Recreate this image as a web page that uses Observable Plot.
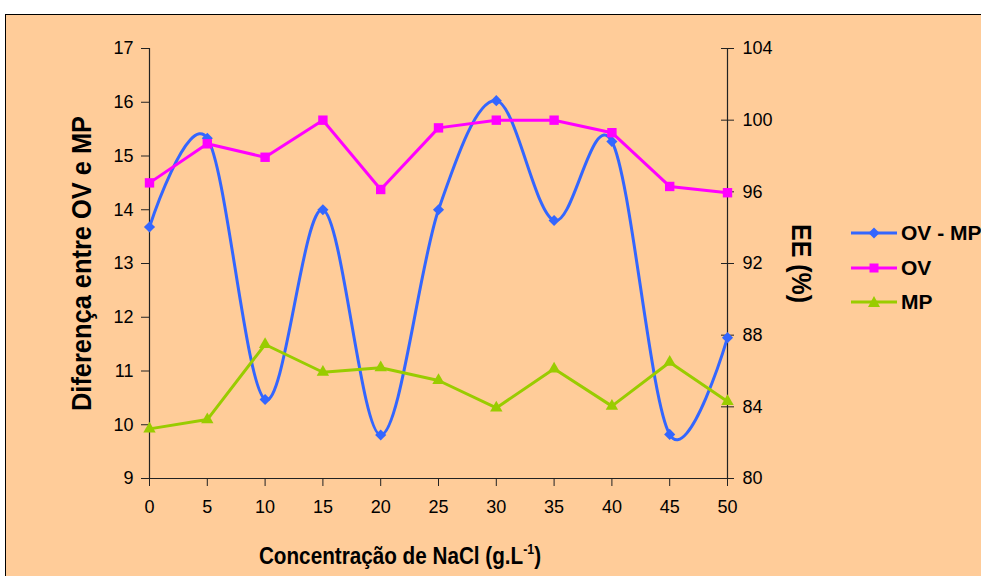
<!DOCTYPE html>
<html><head><meta charset="utf-8">
<script src="https://cdn.jsdelivr.net/npm/d3@7"></script>
<script src="https://cdn.jsdelivr.net/npm/@observablehq/plot@0.6"></script>
<style>
body{margin:0;background:#fff;width:981px;height:576px;overflow:hidden;position:relative;font-family:"Liberation Sans",Arial,sans-serif;}
#bg{position:absolute;left:5px;top:14px;width:990px;height:580px;background:#FFCC99;border:1px solid #000;}
#chart{position:absolute;left:0;top:0;}
#xtitle{position:absolute;left:200px;width:400px;top:543px;line-height:27px;text-align:center;font-weight:bold;font-size:23.5px;color:#000;transform:scaleX(0.88);transform-origin:50% 50%;white-space:nowrap;}
#xtitle sup{font-size:14px;vertical-align:0;position:relative;top:-10px;}
#legend{position:absolute;left:851px;top:216px;font-weight:bold;font-size:21px;color:#000;white-space:nowrap;}
.row{display:flex;align-items:center;height:34.5px;}
.row svg{margin-right:4px;}
</style></head><body>
<div id="bg"></div>
<div id="chart"></div>
<div id="xtitle">Concentração de NaCl (g.L<sup>-1</sup>)</div>
<div id="legend"></div>
<script>
// Data
const conc = [0, 5, 10, 15, 20, 25, 30, 35, 40, 45, 50];
const ovMinusMp = [13.68, 15.33, 10.47, 14.0, 9.81, 14.0, 16.03, 13.8, 15.27, 9.82, 11.62];
const ov = [96.5, 98.68, 97.93, 100.0, 96.13, 99.57, 100.0, 100.0, 99.3, 96.3, 95.95];
const mp = [82.77, 83.29, 87.48, 85.93, 86.18, 85.47, 83.94, 86.12, 84.04, 86.49, 84.30];
const xTicks = [0, 5, 10, 15, 20, 25, 30, 35, 40, 45, 50];
const leftTicks = [9, 10, 11, 12, 13, 14, 15, 16, 17];
const rightTicks = [80, 84, 88, 92, 96, 100, 104];
const seriesNames = ["OV - MP", "OV", "MP"];
const seriesColors = ["#3366FF", "#FF00FF", "#99CC00"];
const seriesSymbols = ["diamond2", "square", "triangle"];
const yTitleLeft = "Diferença entre OV e MP";
const yTitleRight = "EE (%)";

// right-axis (80..104) mapped onto left scale (9..17)
const toLeft = v => 9 + (v - 80) * (8 / 24);
const fromLeft = d => 80 + (d - 9) * 3;

const dBlue = conc.map((c, i) => ({x: c, y: ovMinusMp[i]}));
const dOV = conc.map((c, i) => ({x: c, y: toLeft(ov[i])}));
const dMP = conc.map((c, i) => ({x: c, y: toLeft(mp[i])}));

const axisColor = "#222";
const plot = Plot.plot({
  width: 981, height: 576,
  marginLeft: 149, marginRight: 254, marginTop: 48, marginBottom: 98,
  style: {background: "transparent", fontFamily: "'Liberation Sans', Arial, sans-serif", fontSize: "18px", color: "#000"},
  x: {domain: [0, 50]},
  y: {domain: [9, 17]},
  marks: [
    Plot.ruleY([9], {stroke: axisColor, strokeWidth: 1.2}),
    Plot.ruleX([0], {stroke: axisColor, strokeWidth: 1.2}),
    Plot.ruleX([50], {stroke: axisColor, strokeWidth: 1.2}),
    Plot.axisX({ticks: xTicks, tickSize: 8, tickPadding: 14, label: null, fontSize: 18, stroke: axisColor, tickFormat: d => String(d)}),
    Plot.axisY({anchor: "left", ticks: leftTicks, tickSize: 8, tickPadding: 8, label: null, fontSize: 18, stroke: axisColor, tickFormat: d => String(d)}),
    Plot.axisY({anchor: "right", ticks: rightTicks.map(toLeft), tickSize: 6, tickPadding: 9, label: null, fontSize: 18, stroke: axisColor, tickFormat: d => String(Math.round(fromLeft(d)))}),
    Plot.axisY({anchor: "right", ticks: rightTicks.map(toLeft), tickSize: 7, dx: -7, label: null, stroke: axisColor, tickFormat: () => ""}),
    Plot.text([yTitleLeft], {frameAnchor: "left", dx: -67, rotate: -90, textAnchor: "middle", lineAnchor: "middle", fontWeight: "bold", fontSize: 28, fill: "#000", className: "ytl"}),
    Plot.text([yTitleRight], {frameAnchor: "right", dx: 73, rotate: 90, textAnchor: "middle", lineAnchor: "middle", fontWeight: "bold", fontSize: 28, fill: "#000", className: "ytr"}),
    Plot.line(dBlue, {x: "x", y: "y", stroke: seriesColors[0], strokeWidth: 3, curve: "cardinal", tension: 0}),
    Plot.dot(dBlue, {x: "x", y: "y", symbol: seriesSymbols[0], r: 5, fill: seriesColors[0], stroke: "none"}),
    Plot.line(dOV, {x: "x", y: "y", stroke: seriesColors[1], strokeWidth: 3}),
    Plot.dot(dOV, {x: "x", y: "y", symbol: seriesSymbols[1], r: 5.3, fill: seriesColors[1], stroke: "none"}),
    Plot.line(dMP, {x: "x", y: "y", stroke: seriesColors[2], strokeWidth: 3}),
    Plot.dot(dMP, {x: "x", y: "y", symbol: seriesSymbols[2], r: 4.6, fill: seriesColors[2], stroke: "none"})
  ]
});
document.getElementById("chart").appendChild(plot);
// condense rotated titles like the original rendering
d3.select(plot).selectAll("text").each(function() {
  const t = this.textContent;
  if (t === yTitleLeft) { this.setAttribute("textLength", 295); this.setAttribute("lengthAdjust", "spacingAndGlyphs"); }
  if (t === yTitleRight) { this.setAttribute("textLength", 79); this.setAttribute("lengthAdjust", "spacingAndGlyphs"); }
});

// Legend
const symPaths = {
  "diamond2": "M23,1.5 L28.5,7 L23,12.5 L17.5,7 Z",
  "square": "M18.5,2.5 L27.5,2.5 L27.5,11.5 L18.5,11.5 Z",
  "triangle": "M23,1 L29,12 L17,12 Z"
};
const lg = document.getElementById("legend");
seriesNames.forEach((name, i) => {
  const row = document.createElement("div");
  row.className = "row";
  row.innerHTML = `<svg width="46" height="14" viewBox="0 0 46 14"><line x1="0" y1="7" x2="46" y2="7" stroke="${seriesColors[i]}" stroke-width="3"/><path d="${symPaths[seriesSymbols[i]]}" fill="${seriesColors[i]}"/></svg><span>${name}</span>`;
  lg.appendChild(row);
});
</script>
</body></html>
